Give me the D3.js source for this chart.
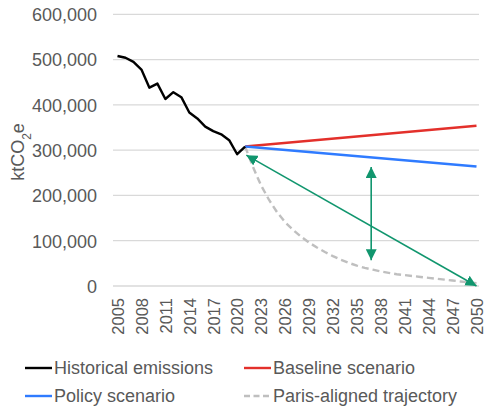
<!DOCTYPE html>
<html><head><meta charset="utf-8">
<script src="https://cdn.jsdelivr.net/npm/d3@7"></script>
<style>
body{margin:0;background:#fff;}
text{font-family:"Liberation Sans",Arial,sans-serif;fill:#595959;}
</style></head>
<body><svg id="c" width="484" height="410"></svg>
<script>
const histYears = [2005,2006,2007,2008,2009,2010,2011,2012,2013,2014,2015,2016,2017,2018,2019,2020,2021];
const histValues = [508000,504000,495000,478000,438000,447000,413000,428000,417000,383000,370000,352000,342000,335000,322000,291000,308000];
const baselineYears = [2021,2050];
const baselineValues = [308000,354000];
const policyYears = [2021,2050];
const policyValues = [308000,264000];
const parisYears = [2021,2022,2023,2024,2025,2026,2027,2028,2029,2030,2031,2032,2033,2034,2035,2036,2037,2038,2039,2040,2041,2042,2043,2044,2045,2046,2047,2048,2049,2050];
const parisValues = [308000,262000,222000,190000,163000,141000,124000,109000,96000,85000,75000,66000,58000,51000,45000,40000,36000,32000,29000,26000,24000,22000,20000,18000,16000,14000,12000,10000,8000,6000];
const arrowFromYears = [2021.15,2036.8];
const arrowFromValues = [289000,263000];
const arrowToYears = [2050,2036.8];
const arrowToValues = [0,57000];
const yTicks = [0,100000,200000,300000,400000,500000,600000];
const xTickLabels = [2005,2008,2011,2014,2017,2020,2023,2026,2029,2032,2035,2038,2041,2044,2047,2050];
const legendNames = ["Historical emissions","Baseline scenario","Policy scenario","Paris-aligned trajectory"];
const legendColors = ["#000000","#E3302B","#2F7BFF","#BFBFBF"];

const svg = d3.select("#c");
const x = d3.scaleLinear().domain([2005,2050]).range([117.5,476.5]);
const y = d3.scaleLinear().domain([0,600000]).range([286,14.3]);
const fmt = d3.format(",");

// gridlines
svg.append("g").selectAll("line").data(yTicks).join("line")
  .attr("x1",113).attr("x2",479)
  .attr("y1",d=>y(d)).attr("y2",d=>y(d))
  .attr("stroke","#D9D9D9").attr("stroke-width",1.3);

// y axis labels
const yAxis = d3.axisLeft(y).tickValues(yTicks).tickFormat(fmt).tickSize(0).tickPadding(0);
const ga = svg.append("g").attr("transform","translate(97,0)").call(yAxis);
ga.select(".domain").remove();
ga.selectAll("text").style("font-size","18px").attr("fill","#595959").attr("dy","0.35em");

// x axis labels
const xAxis = d3.axisBottom(x).tickValues(xTickLabels).tickFormat(d3.format("d")).tickSize(0);
const gx = svg.append("g").attr("transform","translate(0,296)").call(xAxis);
gx.select(".domain").remove();
gx.selectAll("text").style("font-size","16.5px").attr("fill","#595959")
  .attr("transform","rotate(-90)").attr("text-anchor","end")
  .attr("x",-2).attr("y",0).attr("dy","0.35em");

// y title
svg.append("text").attr("transform","translate(24,152) rotate(-90)")
  .attr("text-anchor","middle").style("font-size","18px")
  .html('ktCO<tspan baseline-shift="sub" style="font-size:12px">2</tspan>e');

const line = d3.line().x(d=>x(d[0])).y(d=>y(d[1]));
function draw(yrs,vals,color,dash){
  svg.append("path").datum(yrs.map((v,i)=>[v,vals[i]]))
    .attr("d",line).attr("fill","none").attr("stroke",color)
    .attr("stroke-width",2.4).attr("stroke-linejoin","round")
    .attr("stroke-dasharray",dash||null);
}
draw(parisYears,parisValues,legendColors[3],"7,4");
draw(baselineYears,baselineValues,legendColors[1]);
draw(policyYears,policyValues,legendColors[2]);
draw(histYears,histValues,legendColors[0]);

// arrows
const green = "#11966E";
const defs = svg.append("defs");
["s","e"].forEach(k=>{
  defs.append("marker").attr("id","m"+k).attr("markerUnits","userSpaceOnUse")
    .attr("viewBox","0 0 10 10").attr("refX",k==="e"?10:0).attr("refY",5)
    .attr("markerWidth",11).attr("markerHeight",11).attr("orient","auto")
    .append("path").attr("d",k==="e"?"M0,0L10,5L0,10Z":"M10,0L0,5L10,10Z").attr("fill",green);
});
svg.append("g").selectAll("line").data(arrowFromYears).join("line")
  .attr("x1",(d,i)=>x(d)).attr("y1",(d,i)=>y(arrowFromValues[i]))
  .attr("x2",(d,i)=>x(arrowToYears[i])).attr("y2",(d,i)=>y(arrowToValues[i]))
  .attr("stroke",green).attr("stroke-width",1.6)
  .attr("marker-start","url(#ms)").attr("marker-end","url(#me)");

// legend
const lx = [25,244], ly = [368,396];
const lg = svg.append("g").selectAll("g").data(legendNames).join("g")
  .attr("transform",(d,i)=>`translate(${lx[i%2]},${ly[Math.floor(i/2)]})`);
lg.append("line").attr("x1",0).attr("x2",27).attr("y1",0).attr("y2",0)
  .attr("stroke",(d,i)=>legendColors[i]).attr("stroke-width",2.4)
  .attr("stroke-dasharray",(d,i)=>i===3?"6,3.5":null);
lg.append("text").attr("x",29).attr("dy","0.35em").style("font-size","18px").text(d=>d);
</script></body></html>
